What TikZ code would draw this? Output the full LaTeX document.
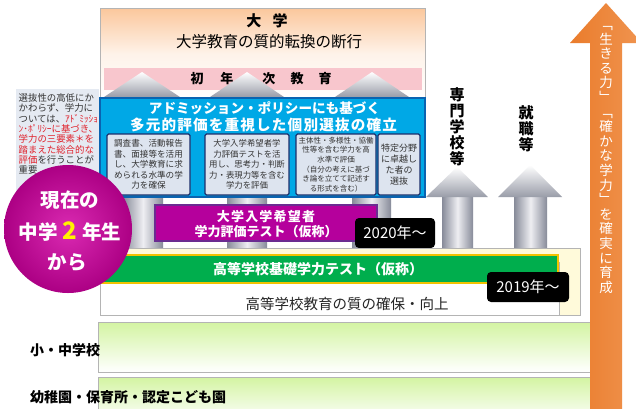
\documentclass[tikz,border=0pt]{standalone}
\usepackage{fontspec}
\setmainfont{Noto Sans CJK JP}
\definecolor{peach}{HTML}{FBC79C}
\definecolor{pinkband}{HTML}{F8C6CD}
\definecolor{admblue}{HTML}{00A8E6}
\definecolor{admborder}{HTML}{0A63B0}
\definecolor{innerfill}{HTML}{DDE4EF}
\definecolor{innerborder}{HTML}{1C2E6B}
\definecolor{innertext}{HTML}{333333}
\definecolor{magbox}{HTML}{B5009C}
\definecolor{magborder}{HTML}{6B2C91}
\definecolor{hsgreen}{HTML}{00AE4D}
\definecolor{hsborder}{HTML}{F2C200}
\definecolor{lightyellow}{HTML}{FFFADA}
\definecolor{bandgreen}{HTML}{D3F4A2}
\definecolor{framegray}{HTML}{B4B4B4}
\definecolor{arrowgray}{HTML}{878B99}
\definecolor{arrowlight}{HTML}{EEEEF2}
\definecolor{orangeL}{HTML}{EA7C2C}
\definecolor{orangeR}{HTML}{F09450}
\definecolor{ballin}{HTML}{DA2AB2}
\definecolor{ballout}{HTML}{AC0084}
\definecolor{textred}{HTML}{E0202A}
\definecolor{noteFill}{HTML}{E5EAF2}
\definecolor{yellowtwo}{HTML}{FFF200}
\begin{document}
\begin{tikzpicture}[x=1pt,y=-1pt,
  boxnw/.style={anchor=north west, inner sep=0pt, outer sep=0pt},
  grayframe/.style={draw=framegray, line width=0.8pt},
  innerbox/.style={boxnw, fill=innerfill, draw=innerborder, line width=1.1pt, rounded corners=1.5pt,
     minimum height=61pt, align=center, text=innertext},
  shaftshade/.style={left color=arrowgray, right color=arrowgray, middle color=arrowlight},
  headshade/.style={top color=white, bottom color=arrowgray!85!white},
  yearlabel/.style={fill=black, rounded corners=4pt, text=white, inner sep=0pt,
     font=\fontsize{15}{15}\selectfont, minimum height=30pt},
  vtext/.style={align=center, font=\bfseries\fontsize{15}{16}\selectfont, inner sep=0pt}
]
\useasboundingbox (0,0) rectangle (636,408);
\fill[white] (0,0) rectangle (636,408);

% left note
\node[boxnw, fill=noteFill, minimum width=83pt, minimum height=112pt] (notebox) at (16,89) {};
\node[anchor=north west, inner sep=0pt, align=left, text=innertext,
      font=\fontsize{9.4}{10.3}\selectfont] (notetext) at (18.5,93.5)
  {選抜性の高低にか\\かわらず、学力に\\ついては、{\color{textred}ｱﾄﾞﾐｯｼｮ}\\
   {\color{textred}ﾝ･ﾎﾟﾘｼｰに基づき、}\\{\color{textred}学力の三要素＊を}\\
   {\color{textred}踏まえた総合的な}\\{\color{textred}評価}を行うことが\\重要};

% university box
\node[boxnw, grayframe, top color=peach, bottom color=white, middle color=peach!22!white,
      minimum width=325pt, minimum height=92pt] (uni) at (100,8) {};
\node[font=\bfseries\fontsize{15}{15}\selectfont, inner sep=0pt] (unititle) at (267,21) {大\hspace{0.75em}学};
\node[font=\fontsize{15.5}{16}\selectfont, inner sep=0pt] (unisub) at (269,42) {大学教育の質的転換の断行};
\node[boxnw, fill=pinkband, minimum width=318pt, minimum height=22pt] (firstyear) at (104,68) {};

% gray arrows under university
\path[shaftshade] (123,96) rectangle (163,256);
\path[shaftshade] (227,96) rectangle (267,256);
\path[shaftshade] (352,96) rectangle (391,256);
\path[headshade] (104,97) -- (142,72) -- (180,97) -- cycle;
\path[headshade] (210,97) -- (247,72) -- (284,97) -- cycle;
\path[headshade] (335,97) -- (372,72) -- (409,97) -- cycle;
\node[font=\bfseries\fontsize{13}{13}\selectfont, inner sep=0pt] (fytext) at (261,79)
  {初\hspace{17pt}年\hspace{29pt}次\hspace{15pt}教\hspace{15pt}育};

% admission box
\node[boxnw, fill=admblue, draw=admborder, line width=1.2pt, minimum width=325pt, minimum height=99pt] (adm) at (100,98) {};
\node[text=white, font=\bfseries\fontsize{13.6}{14}\selectfont, inner sep=0pt] (admt1) at (264.5,108.5)
  {アドミッション・ポリシーにも基づく};
\node[text=white, font=\bfseries\fontsize{14.6}{15}\selectfont, inner sep=0pt] (admt2) at (263.5,124.5)
  {\addfontfeature{LetterSpace=8}多元的評価を重視した個別選抜の確立};
\node[innerbox, minimum width=83pt, font=\fontsize{8.6}{10.4}\selectfont] (c1) at (107,134)
  {調査書、活動報告\\書、面接等を活用\\し、大学教育に求\\められる水準の学\\力を確保};
\node[innerbox, minimum width=84pt, font=\fontsize{8.4}{10.4}\selectfont] (c2) at (205,134)
  {大学入学希望者学\\力評価テストを活\\用し、思考力・判断\\力・表現力等を含む\\学力を評価};
\node[innerbox, minimum width=80pt, font=\fontsize{7.5}{9.6}\selectfont] (c3) at (296,134)
  {主体性・多様性・協働\\性等を含む学力を高\\水準で評価\\（自分の考えに基づ\\き論を立てて記述す\\る形式を含む）};
\node[innerbox, minimum width=42pt, font=\fontsize{9}{11.2}\selectfont] (c4) at (378,134)
  {特定分野\\に卓越し\\た者の\\選抜};

% test for university applicants
\node[boxnw, fill=magbox, draw=magborder, line width=1.2pt, minimum width=222pt, minimum height=36pt] (testu) at (155,205) {};
\node[text=white, font=\bfseries\fontsize{13}{15}\selectfont, align=center, inner sep=0pt] (testutext) at (266,224.5)
  {{\addfontfeature{LetterSpace=9}大学入学希望者}\\学力評価テスト（仮称）};
\node[yearlabel, minimum width=80pt] (y2020) at (395,233) {2020年〜};

% right arrows
\path[shaftshade] (442,196) rectangle (473,252);
\path[headshade] (426,197) -- (457,167) -- (488,197) -- cycle;
\path[shaftshade] (514,196) rectangle (547,252);
\path[headshade] (498,197) -- (530,165) -- (562,197) -- cycle;
\node[vtext] (senmon) at (457,127) {専\\門\\学\\校\\等};
\node[vtext] (shushoku) at (526,128.5) {就\\職\\等};

% high school
\node[boxnw, grayframe, fill=lightyellow, minimum width=480pt, minimum height=67pt] (hsouter) at (100,248) {};
\node[boxnw, grayframe, fill=white, minimum width=459pt, minimum height=53pt] (hsinner) at (100,262) {};
\node[boxnw, fill=hsgreen, draw=hsborder, line width=2pt, minimum width=458pt, minimum height=28pt] (hsbar) at (100,255) {};
\node[text=white, font=\bfseries\fontsize{14}{14}\selectfont, inner sep=0pt] (hstext) at (318,269.5)
  {高等学校基礎学力テスト（仮称）};
\node[font=\fontsize{14.5}{15}\selectfont, text=black!85, inner sep=0pt] (hsquality) at (347,304)
  {高等学校教育の質の確保・向上};
\node[yearlabel, minimum width=82pt] (y2019) at (528,287) {2019年〜};

% lower bands
\node[boxnw, grayframe, top color=bandgreen, bottom color=white, minimum width=494pt, minimum height=50pt] (elem) at (98,322) {};
\node[boxnw, grayframe, top color=bandgreen, bottom color=white, minimum width=494pt, minimum height=45pt] (kinder) at (98,377) {};
\node[anchor=west, font=\bfseries\fontsize{14}{14}\selectfont, inner sep=0pt] (elemlabel) at (30,350) {小・中学校};
\node[anchor=west, font=\bfseries\fontsize{14}{14}\selectfont, inner sep=0pt] (kinderlabel) at (30,397) {幼稚園・保育所・認定こども園};

% orange arrow
\path[left color=orangeL, right color=orangeR] (590,412) -- (590,43) -- (570,43) -- (606,3) -- (642,43) -- (622,43) -- (622,412) -- cycle;
\node[text=white, align=center, inner sep=0pt, font=\fontsize{13.5}{14.6}\selectfont] (ikiru) at (606,160)
  {﹁\\生\\き\\る\\力\\﹂\\﹁\\確\\か\\な\\学\\力\\﹂\\を\\確\\実\\に\\育\\成};

% circle
\node[circle, minimum size=128pt, inner sep=0pt, inner color=ballin, outer color=ballout] (now) at (68,229) {};
\node[text=white, font=\bfseries\fontsize{19.5}{20}\selectfont, inner sep=0pt] (nowl1) at (70,200) {現在の};
\node[text=white, font=\bfseries\fontsize{19.5}{20}\selectfont, inner sep=0pt] (nowl2) at (70,232)
  {中学\hspace{5pt}{\color{yellowtwo}\fontsize{24}{24}\selectfont 2}\hspace{5pt}年生};
\node[text=white, font=\bfseries\fontsize{19.5}{20}\selectfont, inner sep=0pt] (nowl3) at (67,262) {から};
\end{tikzpicture}
\end{document}
